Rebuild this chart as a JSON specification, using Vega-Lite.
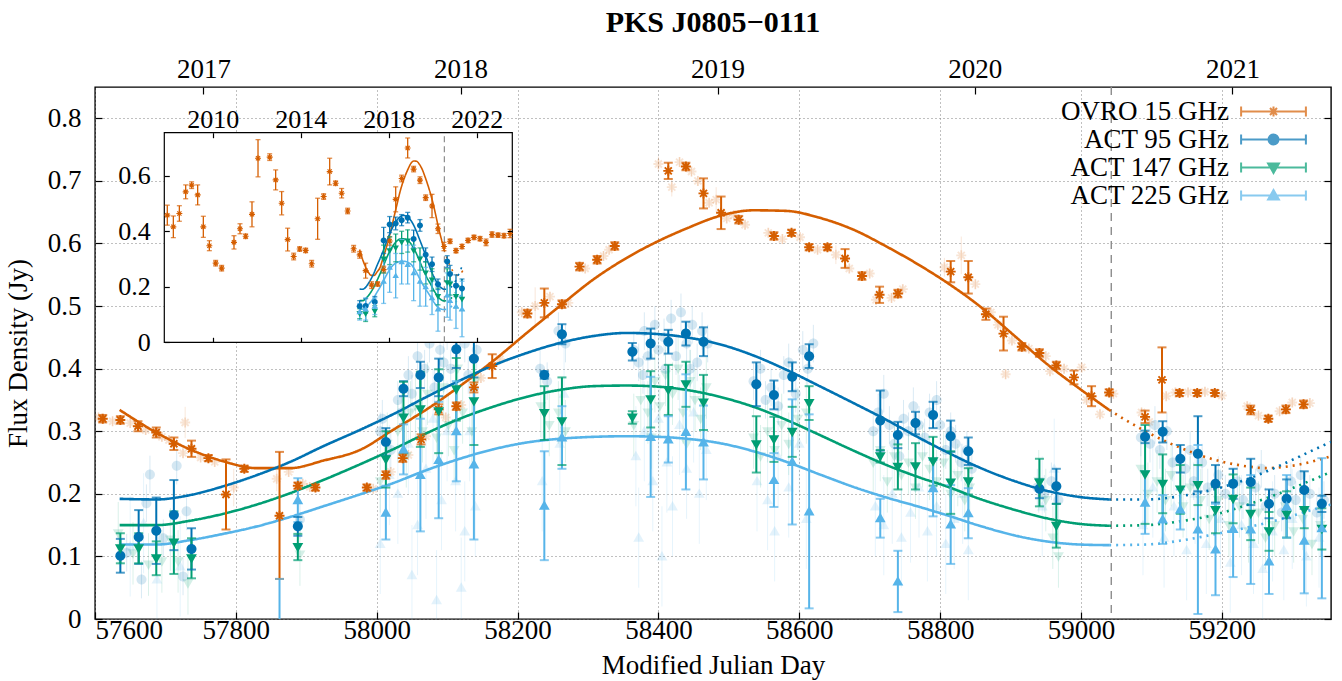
{
"$schema":"https://vega.github.io/schema/vega-lite/v6.json",
"width":1236,"height":532,
"autosize":{"type":"none"},
"padding":{"left":95,"top":87,"right":11,"bottom":62},
"background":"white",
"title":{"text":"PKS J0805−0111","font":"Liberation Serif","fontSize":30,"fontWeight":"bold","color":"black","anchor":"middle","offset":17},
"config":{
 "font":"Liberation Serif",
 "view":{"stroke":"black","strokeWidth":1.4},
 "axis":{"labelFont":"Liberation Serif","labelFontSize":27,"labelColor":"black","titleFont":"Liberation Serif","titleFontSize":27,"titleFontWeight":"normal","titleColor":"black","tickColor":"black","tickWidth":1.2,"domain":false}
},
"datasets":{
"fit":[
{"s":"O","g":"a","t":57635,"v":0.334},{"s":"O","g":"a","t":57687,"v":0.298},{"s":"O","g":"a","t":57735,"v":0.271},{"s":"O","g":"a","t":57782,"v":0.252},{"s":"O","g":"a","t":57830,"v":0.241},{"s":"O","g":"a","t":57877,"v":0.241},{"s":"O","g":"a","t":57924,"v":0.253},{"s":"O","g":"a","t":57976,"v":0.270},{"s":"O","g":"a","t":58023,"v":0.302},{"s":"O","g":"a","t":58071,"v":0.335},{"s":"O","g":"a","t":58118,"v":0.372},{"s":"O","g":"a","t":58165,"v":0.412},{"s":"O","g":"a","t":58213,"v":0.457},{"s":"O","g":"a","t":58260,"v":0.500},{"s":"O","g":"a","t":58307,"v":0.542},{"s":"O","g":"a","t":58355,"v":0.577},{"s":"O","g":"a","t":58402,"v":0.605},{"s":"O","g":"a","t":58440,"v":0.624},{"s":"O","g":"a","t":58487,"v":0.644},{"s":"O","g":"a","t":58535,"v":0.653},{"s":"O","g":"a","t":58582,"v":0.652},{"s":"O","g":"a","t":58629,"v":0.641},{"s":"O","g":"a","t":58677,"v":0.622},{"s":"O","g":"a","t":58724,"v":0.595},{"s":"O","g":"a","t":58771,"v":0.565},{"s":"O","g":"a","t":58809,"v":0.538},{"s":"O","g":"a","t":58856,"v":0.500},{"s":"O","g":"a","t":58904,"v":0.454},{"s":"O","g":"a","t":58951,"v":0.408},{"s":"O","g":"a","t":58998,"v":0.368},{"s":"O","g":"a","t":59040,"v":0.334},
{"s":"O","g":"b","t":59040,"v":0.334},{"s":"O","g":"b","t":59093,"v":0.299},{"s":"O","g":"b","t":59140,"v":0.274},{"s":"O","g":"b","t":59188,"v":0.255},{"s":"O","g":"b","t":59235,"v":0.244},{"s":"O","g":"b","t":59263,"v":0.241},{"s":"O","g":"b","t":59306,"v":0.246},{"s":"O","g":"b","t":59355,"v":0.260},
{"s":"A95","g":"a","t":57635,"v":0.192},{"s":"A95","g":"a","t":57687,"v":0.191},{"s":"A95","g":"a","t":57735,"v":0.198},{"s":"A95","g":"a","t":57782,"v":0.212},{"s":"A95","g":"a","t":57830,"v":0.230},{"s":"A95","g":"a","t":57877,"v":0.251},{"s":"A95","g":"a","t":57924,"v":0.276},{"s":"A95","g":"a","t":57976,"v":0.302},{"s":"A95","g":"a","t":58023,"v":0.327},{"s":"A95","g":"a","t":58071,"v":0.355},{"s":"A95","g":"a","t":58118,"v":0.381},{"s":"A95","g":"a","t":58165,"v":0.405},{"s":"A95","g":"a","t":58213,"v":0.425},{"s":"A95","g":"a","t":58260,"v":0.441},{"s":"A95","g":"a","t":58307,"v":0.452},{"s":"A95","g":"a","t":58355,"v":0.457},{"s":"A95","g":"a","t":58402,"v":0.455},{"s":"A95","g":"a","t":58440,"v":0.450},{"s":"A95","g":"a","t":58487,"v":0.439},{"s":"A95","g":"a","t":58535,"v":0.421},{"s":"A95","g":"a","t":58582,"v":0.398},{"s":"A95","g":"a","t":58629,"v":0.372},{"s":"A95","g":"a","t":58677,"v":0.345},{"s":"A95","g":"a","t":58724,"v":0.318},{"s":"A95","g":"a","t":58771,"v":0.289},{"s":"A95","g":"a","t":58809,"v":0.267},{"s":"A95","g":"a","t":58856,"v":0.242},{"s":"A95","g":"a","t":58904,"v":0.221},{"s":"A95","g":"a","t":58951,"v":0.205},{"s":"A95","g":"a","t":58998,"v":0.195},{"s":"A95","g":"a","t":59040,"v":0.191},
{"s":"A95","g":"b","t":59040,"v":0.191},{"s":"A95","g":"b","t":59093,"v":0.191},{"s":"A95","g":"b","t":59140,"v":0.196},{"s":"A95","g":"b","t":59188,"v":0.207},{"s":"A95","g":"b","t":59235,"v":0.223},{"s":"A95","g":"b","t":59282,"v":0.245},{"s":"A95","g":"b","t":59330,"v":0.270},{"s":"A95","g":"b","t":59355,"v":0.283},
{"s":"A147","g":"a","t":57635,"v":0.150},{"s":"A147","g":"a","t":57687,"v":0.150},{"s":"A147","g":"a","t":57735,"v":0.157},{"s":"A147","g":"a","t":57782,"v":0.168},{"s":"A147","g":"a","t":57830,"v":0.183},{"s":"A147","g":"a","t":57877,"v":0.201},{"s":"A147","g":"a","t":57924,"v":0.222},{"s":"A147","g":"a","t":57976,"v":0.247},{"s":"A147","g":"a","t":58023,"v":0.271},{"s":"A147","g":"a","t":58071,"v":0.297},{"s":"A147","g":"a","t":58118,"v":0.320},{"s":"A147","g":"a","t":58165,"v":0.339},{"s":"A147","g":"a","t":58213,"v":0.355},{"s":"A147","g":"a","t":58260,"v":0.366},{"s":"A147","g":"a","t":58307,"v":0.372},{"s":"A147","g":"a","t":58355,"v":0.373},{"s":"A147","g":"a","t":58402,"v":0.371},{"s":"A147","g":"a","t":58440,"v":0.366},{"s":"A147","g":"a","t":58487,"v":0.355},{"s":"A147","g":"a","t":58535,"v":0.339},{"s":"A147","g":"a","t":58582,"v":0.318},{"s":"A147","g":"a","t":58629,"v":0.294},{"s":"A147","g":"a","t":58677,"v":0.269},{"s":"A147","g":"a","t":58724,"v":0.246},{"s":"A147","g":"a","t":58771,"v":0.226},{"s":"A147","g":"a","t":58809,"v":0.212},{"s":"A147","g":"a","t":58856,"v":0.192},{"s":"A147","g":"a","t":58904,"v":0.175},{"s":"A147","g":"a","t":58951,"v":0.161},{"s":"A147","g":"a","t":58998,"v":0.152},{"s":"A147","g":"a","t":59040,"v":0.149},
{"s":"A147","g":"b","t":59040,"v":0.149},{"s":"A147","g":"b","t":59093,"v":0.150},{"s":"A147","g":"b","t":59140,"v":0.156},{"s":"A147","g":"b","t":59188,"v":0.166},{"s":"A147","g":"b","t":59235,"v":0.182},{"s":"A147","g":"b","t":59282,"v":0.201},{"s":"A147","g":"b","t":59330,"v":0.223},{"s":"A147","g":"b","t":59355,"v":0.235},
{"s":"A225","g":"a","t":57635,"v":0.119},{"s":"A225","g":"a","t":57687,"v":0.119},{"s":"A225","g":"a","t":57735,"v":0.126},{"s":"A225","g":"a","t":57782,"v":0.136},{"s":"A225","g":"a","t":57830,"v":0.148},{"s":"A225","g":"a","t":57877,"v":0.163},{"s":"A225","g":"a","t":57924,"v":0.180},{"s":"A225","g":"a","t":57976,"v":0.199},{"s":"A225","g":"a","t":58023,"v":0.217},{"s":"A225","g":"a","t":58071,"v":0.238},{"s":"A225","g":"a","t":58118,"v":0.256},{"s":"A225","g":"a","t":58165,"v":0.271},{"s":"A225","g":"a","t":58213,"v":0.282},{"s":"A225","g":"a","t":58260,"v":0.288},{"s":"A225","g":"a","t":58307,"v":0.291},{"s":"A225","g":"a","t":58355,"v":0.292},{"s":"A225","g":"a","t":58402,"v":0.291},{"s":"A225","g":"a","t":58440,"v":0.288},{"s":"A225","g":"a","t":58487,"v":0.281},{"s":"A225","g":"a","t":58535,"v":0.268},{"s":"A225","g":"a","t":58582,"v":0.251},{"s":"A225","g":"a","t":58629,"v":0.231},{"s":"A225","g":"a","t":58677,"v":0.211},{"s":"A225","g":"a","t":58724,"v":0.194},{"s":"A225","g":"a","t":58771,"v":0.179},{"s":"A225","g":"a","t":58809,"v":0.166},{"s":"A225","g":"a","t":58856,"v":0.149},{"s":"A225","g":"a","t":58904,"v":0.134},{"s":"A225","g":"a","t":58951,"v":0.124},{"s":"A225","g":"a","t":58998,"v":0.119},{"s":"A225","g":"a","t":59040,"v":0.118},
{"s":"A225","g":"b","t":59040,"v":0.118},{"s":"A225","g":"b","t":59093,"v":0.119},{"s":"A225","g":"b","t":59140,"v":0.125},{"s":"A225","g":"b","t":59188,"v":0.135},{"s":"A225","g":"b","t":59235,"v":0.146},{"s":"A225","g":"b","t":59282,"v":0.159},{"s":"A225","g":"b","t":59330,"v":0.175},{"s":"A225","g":"b","t":59355,"v":0.183}
],
"bold":[
{"s":"O","t":57611,"v":0.320,"lo":0.314,"hi":0.326},{"s":"O","t":57636,"v":0.318,"lo":0.312,"hi":0.324},{"s":"O","t":57661,"v":0.308,"lo":0.300,"hi":0.316},{"s":"O","t":57687,"v":0.298,"lo":0.290,"hi":0.306},{"s":"O","t":57712,"v":0.280,"lo":0.270,"hi":0.290},{"s":"O","t":57737,"v":0.272,"lo":0.259,"hi":0.285},{"s":"O","t":57761,"v":0.257,"lo":0.252,"hi":0.262},{"s":"O","t":57786,"v":0.199,"lo":0.143,"hi":0.255},{"s":"O","t":57812,"v":0.240,"lo":0.235,"hi":0.245},{"s":"O","t":57862,"v":0.165,"lo":0.064,"hi":0.267},{"s":"O","t":57888,"v":0.213,"lo":0.208,"hi":0.218},{"s":"O","t":57913,"v":0.210,"lo":0.205,"hi":0.215},{"s":"O","t":57986,"v":0.210,"lo":0.205,"hi":0.215},{"s":"O","t":58013,"v":0.230,"lo":0.224,"hi":0.236},{"s":"O","t":58037,"v":0.257,"lo":0.251,"hi":0.263},{"s":"O","t":58063,"v":0.287,"lo":0.279,"hi":0.295},{"s":"O","t":58088,"v":0.335,"lo":0.327,"hi":0.343},{"s":"O","t":58113,"v":0.340,"lo":0.334,"hi":0.346},{"s":"O","t":58138,"v":0.370,"lo":0.362,"hi":0.378},{"s":"O","t":58164,"v":0.404,"lo":0.385,"hi":0.423},{"s":"O","t":58214,"v":0.488,"lo":0.482,"hi":0.494},{"s":"O","t":58238,"v":0.505,"lo":0.482,"hi":0.528},{"s":"O","t":58263,"v":0.503,"lo":0.497,"hi":0.509},{"s":"O","t":58288,"v":0.563,"lo":0.557,"hi":0.569},{"s":"O","t":58313,"v":0.574,"lo":0.568,"hi":0.580},{"s":"O","t":58338,"v":0.596,"lo":0.590,"hi":0.602},{"s":"O","t":58414,"v":0.716,"lo":0.703,"hi":0.729},{"s":"O","t":58439,"v":0.723,"lo":0.717,"hi":0.729},{"s":"O","t":58464,"v":0.680,"lo":0.656,"hi":0.704},{"s":"O","t":58489,"v":0.649,"lo":0.623,"hi":0.675},{"s":"O","t":58514,"v":0.638,"lo":0.632,"hi":0.644},{"s":"O","t":58564,"v":0.612,"lo":0.606,"hi":0.618},{"s":"O","t":58589,"v":0.617,"lo":0.612,"hi":0.622},{"s":"O","t":58614,"v":0.594,"lo":0.589,"hi":0.599},{"s":"O","t":58640,"v":0.594,"lo":0.589,"hi":0.599},{"s":"O","t":58665,"v":0.576,"lo":0.561,"hi":0.591},{"s":"O","t":58689,"v":0.548,"lo":0.542,"hi":0.554},{"s":"O","t":58714,"v":0.518,"lo":0.505,"hi":0.531},{"s":"O","t":58740,"v":0.520,"lo":0.514,"hi":0.526},{"s":"O","t":58815,"v":0.555,"lo":0.538,"hi":0.572},{"s":"O","t":58840,"v":0.546,"lo":0.520,"hi":0.572},{"s":"O","t":58865,"v":0.487,"lo":0.478,"hi":0.496},{"s":"O","t":58890,"v":0.456,"lo":0.429,"hi":0.483},{"s":"O","t":58916,"v":0.435,"lo":0.429,"hi":0.441},{"s":"O","t":58941,"v":0.425,"lo":0.419,"hi":0.431},{"s":"O","t":58965,"v":0.405,"lo":0.399,"hi":0.411},{"s":"O","t":58990,"v":0.386,"lo":0.375,"hi":0.397},{"s":"O","t":59015,"v":0.356,"lo":0.340,"hi":0.372},{"s":"O","t":59040,"v":0.362,"lo":0.357,"hi":0.367},{"s":"O","t":59091,"v":0.323,"lo":0.313,"hi":0.333},{"s":"O","t":59115,"v":0.382,"lo":0.330,"hi":0.434},{"s":"O","t":59140,"v":0.361,"lo":0.356,"hi":0.366},{"s":"O","t":59165,"v":0.361,"lo":0.356,"hi":0.366},{"s":"O","t":59190,"v":0.361,"lo":0.356,"hi":0.366},{"s":"O","t":59241,"v":0.334,"lo":0.327,"hi":0.341},{"s":"O","t":59266,"v":0.320,"lo":0.315,"hi":0.325},{"s":"O","t":59291,"v":0.335,"lo":0.329,"hi":0.341},{"s":"O","t":59316,"v":0.343,"lo":0.337,"hi":0.349},
{"s":"A95","t":57636,"v":0.101,"lo":0.074,"hi":0.128},{"s":"A95","t":57662,"v":0.131,"lo":0.088,"hi":0.174},{"s":"A95","t":57687,"v":0.141,"lo":0.088,"hi":0.194},{"s":"A95","t":57712,"v":0.166,"lo":0.110,"hi":0.222},{"s":"A95","t":57737,"v":0.112,"lo":0.079,"hi":0.145},{"s":"A95","t":57888,"v":0.148,"lo":0.133,"hi":0.163},{"s":"A95","t":58013,"v":0.283,"lo":0.261,"hi":0.305},{"s":"A95","t":58038,"v":0.368,"lo":0.356,"hi":0.380},{"s":"A95","t":58062,"v":0.390,"lo":0.369,"hi":0.411},{"s":"A95","t":58088,"v":0.386,"lo":0.356,"hi":0.416},{"s":"A95","t":58113,"v":0.431,"lo":0.401,"hi":0.461},{"s":"A95","t":58138,"v":0.416,"lo":0.386,"hi":0.446},{"s":"A95","t":58238,"v":0.390,"lo":0.384,"hi":0.396},{"s":"A95","t":58263,"v":0.455,"lo":0.439,"hi":0.471},{"s":"A95","t":58363,"v":0.427,"lo":0.413,"hi":0.441},{"s":"A95","t":58389,"v":0.440,"lo":0.416,"hi":0.464},{"s":"A95","t":58414,"v":0.443,"lo":0.424,"hi":0.462},{"s":"A95","t":58439,"v":0.456,"lo":0.437,"hi":0.475},{"s":"A95","t":58464,"v":0.443,"lo":0.420,"hi":0.466},{"s":"A95","t":58539,"v":0.375,"lo":0.340,"hi":0.410},{"s":"A95","t":58564,"v":0.358,"lo":0.335,"hi":0.381},{"s":"A95","t":58590,"v":0.387,"lo":0.364,"hi":0.410},{"s":"A95","t":58614,"v":0.420,"lo":0.401,"hi":0.439},{"s":"A95","t":58715,"v":0.317,"lo":0.269,"hi":0.365},{"s":"A95","t":58740,"v":0.294,"lo":0.273,"hi":0.315},{"s":"A95","t":58765,"v":0.313,"lo":0.295,"hi":0.331},{"s":"A95","t":58790,"v":0.326,"lo":0.305,"hi":0.347},{"s":"A95","t":58815,"v":0.292,"lo":0.267,"hi":0.317},{"s":"A95","t":58840,"v":0.268,"lo":0.246,"hi":0.290},{"s":"A95","t":58941,"v":0.208,"lo":0.193,"hi":0.223},{"s":"A95","t":58965,"v":0.212,"lo":0.184,"hi":0.240},{"s":"A95","t":59091,"v":0.291,"lo":0.281,"hi":0.301},{"s":"A95","t":59116,"v":0.299,"lo":0.282,"hi":0.316},{"s":"A95","t":59141,"v":0.256,"lo":0.234,"hi":0.278},{"s":"A95","t":59166,"v":0.264,"lo":0.204,"hi":0.324},{"s":"A95","t":59191,"v":0.216,"lo":0.186,"hi":0.246},{"s":"A95","t":59216,"v":0.216,"lo":0.192,"hi":0.240},{"s":"A95","t":59241,"v":0.219,"lo":0.182,"hi":0.256},{"s":"A95","t":59267,"v":0.184,"lo":0.161,"hi":0.207},{"s":"A95","t":59292,"v":0.192,"lo":0.161,"hi":0.223},{"s":"A95","t":59317,"v":0.206,"lo":0.176,"hi":0.236},{"s":"A95","t":59342,"v":0.184,"lo":0.171,"hi":0.197},
{"s":"A147","t":57636,"v":0.113,"lo":0.089,"hi":0.137},{"s":"A147","t":57662,"v":0.113,"lo":0.089,"hi":0.137},{"s":"A147","t":57687,"v":0.097,"lo":0.070,"hi":0.124},{"s":"A147","t":57712,"v":0.122,"lo":0.072,"hi":0.172},{"s":"A147","t":57737,"v":0.097,"lo":0.065,"hi":0.129},{"s":"A147","t":57888,"v":0.115,"lo":0.094,"hi":0.136},{"s":"A147","t":58013,"v":0.255,"lo":0.210,"hi":0.300},{"s":"A147","t":58038,"v":0.322,"lo":0.265,"hi":0.379},{"s":"A147","t":58062,"v":0.335,"lo":0.275,"hi":0.395},{"s":"A147","t":58088,"v":0.332,"lo":0.265,"hi":0.399},{"s":"A147","t":58113,"v":0.367,"lo":0.317,"hi":0.417},{"s":"A147","t":58138,"v":0.348,"lo":0.278,"hi":0.418},{"s":"A147","t":58238,"v":0.329,"lo":0.286,"hi":0.372},{"s":"A147","t":58263,"v":0.316,"lo":0.246,"hi":0.386},{"s":"A147","t":58363,"v":0.322,"lo":0.312,"hi":0.332},{"s":"A147","t":58389,"v":0.351,"lo":0.306,"hi":0.396},{"s":"A147","t":58414,"v":0.366,"lo":0.326,"hi":0.406},{"s":"A147","t":58439,"v":0.375,"lo":0.339,"hi":0.411},{"s":"A147","t":58464,"v":0.346,"lo":0.302,"hi":0.390},{"s":"A147","t":58539,"v":0.279,"lo":0.234,"hi":0.324},{"s":"A147","t":58564,"v":0.287,"lo":0.251,"hi":0.323},{"s":"A147","t":58590,"v":0.299,"lo":0.259,"hi":0.339},{"s":"A147","t":58614,"v":0.345,"lo":0.318,"hi":0.372},{"s":"A147","t":58715,"v":0.260,"lo":0.250,"hi":0.270},{"s":"A147","t":58740,"v":0.243,"lo":0.207,"hi":0.279},{"s":"A147","t":58765,"v":0.244,"lo":0.207,"hi":0.281},{"s":"A147","t":58790,"v":0.252,"lo":0.213,"hi":0.291},{"s":"A147","t":58815,"v":0.218,"lo":0.168,"hi":0.268},{"s":"A147","t":58840,"v":0.220,"lo":0.199,"hi":0.241},{"s":"A147","t":58941,"v":0.218,"lo":0.180,"hi":0.256},{"s":"A147","t":58965,"v":0.149,"lo":0.114,"hi":0.184},{"s":"A147","t":59091,"v":0.231,"lo":0.152,"hi":0.310},{"s":"A147","t":59116,"v":0.216,"lo":0.169,"hi":0.263},{"s":"A147","t":59141,"v":0.207,"lo":0.168,"hi":0.246},{"s":"A147","t":59166,"v":0.214,"lo":0.182,"hi":0.246},{"s":"A147","t":59191,"v":0.174,"lo":0.137,"hi":0.211},{"s":"A147","t":59216,"v":0.192,"lo":0.153,"hi":0.231},{"s":"A147","t":59241,"v":0.168,"lo":0.126,"hi":0.210},{"s":"A147","t":59267,"v":0.140,"lo":0.109,"hi":0.171},{"s":"A147","t":59292,"v":0.167,"lo":0.130,"hi":0.204},{"s":"A147","t":59317,"v":0.174,"lo":0.145,"hi":0.203},{"s":"A147","t":59342,"v":0.144,"lo":0.111,"hi":0.177},
{"s":"A225","t":57862,"v":-0.04,"lo":-0.144,"hi":0.064},{"s":"A225","t":57888,"v":0.190,"lo":0.155,"hi":0.225},{"s":"A225","t":58013,"v":0.170,"lo":0.127,"hi":0.213},{"s":"A225","t":58038,"v":0.271,"lo":0.231,"hi":0.311},{"s":"A225","t":58062,"v":0.230,"lo":0.140,"hi":0.320},{"s":"A225","t":58088,"v":0.254,"lo":0.161,"hi":0.347},{"s":"A225","t":58113,"v":0.300,"lo":0.220,"hi":0.380},{"s":"A225","t":58138,"v":0.247,"lo":0.127,"hi":0.367},{"s":"A225","t":58238,"v":0.181,"lo":0.094,"hi":0.268},{"s":"A225","t":58263,"v":0.290,"lo":0.240,"hi":0.340},{"s":"A225","t":58389,"v":0.291,"lo":0.195,"hi":0.387},{"s":"A225","t":58414,"v":0.287,"lo":0.250,"hi":0.324},{"s":"A225","t":58439,"v":0.299,"lo":0.207,"hi":0.391},{"s":"A225","t":58464,"v":0.282,"lo":0.223,"hi":0.341},{"s":"A225","t":58564,"v":0.222,"lo":0.179,"hi":0.265},{"s":"A225","t":58590,"v":0.251,"lo":0.151,"hi":0.351},{"s":"A225","t":58614,"v":0.172,"lo":0.017,"hi":0.327},{"s":"A225","t":58715,"v":0.161,"lo":0.130,"hi":0.192},{"s":"A225","t":58740,"v":0.060,"lo":0.011,"hi":0.109},{"s":"A225","t":58790,"v":0.209,"lo":0.164,"hi":0.254},{"s":"A225","t":58815,"v":0.151,"lo":0.088,"hi":0.214},{"s":"A225","t":58840,"v":0.169,"lo":0.129,"hi":0.209},{"s":"A225","t":59091,"v":0.186,"lo":0.136,"hi":0.236},{"s":"A225","t":59116,"v":0.159,"lo":0.120,"hi":0.198},{"s":"A225","t":59141,"v":0.175,"lo":0.143,"hi":0.207},{"s":"A225","t":59166,"v":0.143,"lo":0.008,"hi":0.278},{"s":"A225","t":59191,"v":0.111,"lo":0.038,"hi":0.184},{"s":"A225","t":59216,"v":0.144,"lo":0.067,"hi":0.221},{"s":"A225","t":59241,"v":0.143,"lo":0.056,"hi":0.230},{"s":"A225","t":59267,"v":0.092,"lo":0.040,"hi":0.144},{"s":"A225","t":59292,"v":0.180,"lo":0.130,"hi":0.230},{"s":"A225","t":59317,"v":0.125,"lo":0.041,"hi":0.209},{"s":"A225","t":59342,"v":0.145,"lo":0.033,"hi":0.257}
],
"faint":[
{"s":"O","t":57605,"v":0.322,"lo":0.314,"hi":0.330},{"s":"O","t":57625,"v":0.316,"lo":0.308,"hi":0.324},{"s":"O","t":57650,"v":0.313,"lo":0.305,"hi":0.321},{"s":"O","t":57672,"v":0.302,"lo":0.294,"hi":0.310},{"s":"O","t":57695,"v":0.291,"lo":0.283,"hi":0.299},{"s":"O","t":57705,"v":0.286,"lo":0.278,"hi":0.294},{"s":"O","t":57725,"v":0.265,"lo":0.257,"hi":0.273},{"s":"O","t":57728,"v":0.314,"lo":0.289,"hi":0.339},{"s":"O","t":57750,"v":0.258,"lo":0.250,"hi":0.266},{"s":"O","t":57770,"v":0.251,"lo":0.243,"hi":0.259},{"s":"O","t":57797,"v":0.210,"lo":0.180,"hi":0.240},{"s":"O","t":57858,"v":0.224,"lo":0.204,"hi":0.244},{"s":"O","t":57875,"v":0.235,"lo":0.227,"hi":0.243},{"s":"O","t":57895,"v":0.216,"lo":0.208,"hi":0.224},{"s":"O","t":57905,"v":0.211,"lo":0.203,"hi":0.219},{"s":"O","t":57995,"v":0.208,"lo":0.200,"hi":0.216},{"s":"O","t":58020,"v":0.235,"lo":0.227,"hi":0.243},{"s":"O","t":58045,"v":0.262,"lo":0.254,"hi":0.270},{"s":"O","t":58070,"v":0.292,"lo":0.284,"hi":0.300},{"s":"O","t":58098,"v":0.322,"lo":0.314,"hi":0.330},{"s":"O","t":58120,"v":0.342,"lo":0.334,"hi":0.350},{"s":"O","t":58148,"v":0.385,"lo":0.377,"hi":0.393},{"s":"O","t":58175,"v":0.415,"lo":0.407,"hi":0.423},{"s":"O","t":58206,"v":0.490,"lo":0.482,"hi":0.498},{"s":"O","t":58225,"v":0.500,"lo":0.470,"hi":0.530},{"s":"O","t":58246,"v":0.515,"lo":0.507,"hi":0.523},{"s":"O","t":58272,"v":0.505,"lo":0.497,"hi":0.513},{"s":"O","t":58296,"v":0.560,"lo":0.552,"hi":0.568},{"s":"O","t":58322,"v":0.580,"lo":0.572,"hi":0.588},{"s":"O","t":58330,"v":0.590,"lo":0.582,"hi":0.598},{"s":"O","t":58400,"v":0.727,"lo":0.715,"hi":0.739},{"s":"O","t":58419,"v":0.690,"lo":0.675,"hi":0.705},{"s":"O","t":58430,"v":0.730,"lo":0.722,"hi":0.738},{"s":"O","t":58447,"v":0.715,"lo":0.707,"hi":0.723},{"s":"O","t":58456,"v":0.700,"lo":0.692,"hi":0.708},{"s":"O","t":58472,"v":0.665,"lo":0.657,"hi":0.673},{"s":"O","t":58482,"v":0.670,"lo":0.650,"hi":0.690},{"s":"O","t":58497,"v":0.640,"lo":0.632,"hi":0.648},{"s":"O","t":58507,"v":0.645,"lo":0.637,"hi":0.653},{"s":"O","t":58523,"v":0.630,"lo":0.622,"hi":0.638},{"s":"O","t":58556,"v":0.617,"lo":0.609,"hi":0.625},{"s":"O","t":58576,"v":0.607,"lo":0.599,"hi":0.615},{"s":"O","t":58601,"v":0.610,"lo":0.602,"hi":0.618},{"s":"O","t":58626,"v":0.590,"lo":0.582,"hi":0.598},{"s":"O","t":58652,"v":0.582,"lo":0.567,"hi":0.597},{"s":"O","t":58671,"v":0.560,"lo":0.552,"hi":0.568},{"s":"O","t":58700,"v":0.552,"lo":0.544,"hi":0.560},{"s":"O","t":58709,"v":0.510,"lo":0.502,"hi":0.518},{"s":"O","t":58731,"v":0.513,"lo":0.505,"hi":0.521},{"s":"O","t":58747,"v":0.527,"lo":0.519,"hi":0.535},{"s":"O","t":58806,"v":0.562,"lo":0.547,"hi":0.577},{"s":"O","t":58830,"v":0.581,"lo":0.551,"hi":0.611},{"s":"O","t":58850,"v":0.535,"lo":0.527,"hi":0.543},{"s":"O","t":58872,"v":0.490,"lo":0.482,"hi":0.498},{"s":"O","t":58882,"v":0.470,"lo":0.462,"hi":0.478},{"s":"O","t":58893,"v":0.391,"lo":0.383,"hi":0.399},{"s":"O","t":58902,"v":0.445,"lo":0.437,"hi":0.453},{"s":"O","t":58926,"v":0.432,"lo":0.424,"hi":0.440},{"s":"O","t":58950,"v":0.420,"lo":0.412,"hi":0.428},{"s":"O","t":58956,"v":0.396,"lo":0.388,"hi":0.404},{"s":"O","t":58976,"v":0.400,"lo":0.392,"hi":0.408},{"s":"O","t":59001,"v":0.402,"lo":0.394,"hi":0.410},{"s":"O","t":59008,"v":0.350,"lo":0.342,"hi":0.358},{"s":"O","t":59027,"v":0.327,"lo":0.319,"hi":0.335},{"s":"O","t":59046,"v":0.360,"lo":0.352,"hi":0.368},{"s":"O","t":59086,"v":0.330,"lo":0.322,"hi":0.338},{"s":"O","t":59097,"v":0.315,"lo":0.307,"hi":0.323},{"s":"O","t":59121,"v":0.356,"lo":0.348,"hi":0.364},{"s":"O","t":59134,"v":0.362,"lo":0.354,"hi":0.370},{"s":"O","t":59152,"v":0.362,"lo":0.354,"hi":0.370},{"s":"O","t":59176,"v":0.363,"lo":0.355,"hi":0.371},{"s":"O","t":59200,"v":0.357,"lo":0.349,"hi":0.365},{"s":"O","t":59236,"v":0.340,"lo":0.332,"hi":0.348},{"s":"O","t":59252,"v":0.325,"lo":0.317,"hi":0.333},{"s":"O","t":59282,"v":0.332,"lo":0.324,"hi":0.340},{"s":"O","t":59300,"v":0.346,"lo":0.338,"hi":0.354},{"s":"O","t":59325,"v":0.345,"lo":0.337,"hi":0.353},
{"s":"A95","t":57678,"v":0.231,"lo":0.201,"hi":0.261},{"s":"A95","t":57716,"v":0.245,"lo":0.215,"hi":0.275},{"s":"A95","t":57673,"v":0.185,"lo":0.155,"hi":0.215},{"s":"A95","t":57697,"v":0.129,"lo":0.099,"hi":0.159},{"s":"A95","t":57730,"v":0.172,"lo":0.142,"hi":0.202},{"s":"A95","t":57645,"v":0.106,"lo":0.076,"hi":0.136},{"s":"A95","t":57666,"v":0.063,"lo":0.033,"hi":0.093},{"s":"A95","t":57725,"v":0.068,"lo":0.038,"hi":0.098},{"s":"A95","t":57891,"v":0.159,"lo":0.129,"hi":0.189},
{"s":"A95","t":58005,"v":0.300,"lo":0.270,"hi":0.330},{"s":"A95","t":58008,"v":0.320,"lo":0.290,"hi":0.350},{"s":"A95","t":58020,"v":0.270,"lo":0.240,"hi":0.300},{"s":"A95","t":58030,"v":0.350,"lo":0.320,"hi":0.380},{"s":"A95","t":58035,"v":0.330,"lo":0.300,"hi":0.360},{"s":"A95","t":58045,"v":0.390,"lo":0.360,"hi":0.420},{"s":"A95","t":58050,"v":0.360,"lo":0.330,"hi":0.390},{"s":"A95","t":58058,"v":0.420,"lo":0.390,"hi":0.450},{"s":"A95","t":58068,"v":0.400,"lo":0.370,"hi":0.430},{"s":"A95","t":58075,"v":0.440,"lo":0.410,"hi":0.470},{"s":"A95","t":58082,"v":0.370,"lo":0.340,"hi":0.400},{"s":"A95","t":58090,"v":0.430,"lo":0.400,"hi":0.460},{"s":"A95","t":58095,"v":0.410,"lo":0.380,"hi":0.440},{"s":"A95","t":58100,"v":0.460,"lo":0.430,"hi":0.490},{"s":"A95","t":58105,"v":0.400,"lo":0.370,"hi":0.430},{"s":"A95","t":58110,"v":0.470,"lo":0.440,"hi":0.500},{"s":"A95","t":58118,"v":0.450,"lo":0.420,"hi":0.480},{"s":"A95","t":58125,"v":0.440,"lo":0.410,"hi":0.470},{"s":"A95","t":58130,"v":0.390,"lo":0.360,"hi":0.420},{"s":"A95","t":58142,"v":0.430,"lo":0.400,"hi":0.460},
{"s":"A95","t":58232,"v":0.400,"lo":0.370,"hi":0.430},{"s":"A95","t":58242,"v":0.380,"lo":0.350,"hi":0.410},{"s":"A95","t":58258,"v":0.460,"lo":0.430,"hi":0.490},{"s":"A95","t":58268,"v":0.440,"lo":0.410,"hi":0.470},
{"s":"A95","t":58365,"v":0.430,"lo":0.400,"hi":0.460},{"s":"A95","t":58372,"v":0.410,"lo":0.380,"hi":0.440},{"s":"A95","t":58378,"v":0.390,"lo":0.360,"hi":0.420},{"s":"A95","t":58380,"v":0.460,"lo":0.430,"hi":0.490},{"s":"A95","t":58385,"v":0.420,"lo":0.390,"hi":0.450},{"s":"A95","t":58395,"v":0.470,"lo":0.440,"hi":0.500},{"s":"A95","t":58400,"v":0.430,"lo":0.400,"hi":0.460},{"s":"A95","t":58408,"v":0.450,"lo":0.420,"hi":0.480},{"s":"A95","t":58410,"v":0.400,"lo":0.370,"hi":0.430},{"s":"A95","t":58418,"v":0.480,"lo":0.450,"hi":0.510},{"s":"A95","t":58425,"v":0.420,"lo":0.390,"hi":0.450},{"s":"A95","t":58432,"v":0.490,"lo":0.460,"hi":0.520},{"s":"A95","t":58440,"v":0.440,"lo":0.410,"hi":0.470},{"s":"A95","t":58445,"v":0.400,"lo":0.370,"hi":0.430},{"s":"A95","t":58448,"v":0.470,"lo":0.440,"hi":0.500},{"s":"A95","t":58455,"v":0.410,"lo":0.380,"hi":0.440},{"s":"A95","t":58462,"v":0.460,"lo":0.430,"hi":0.490},{"s":"A95","t":58470,"v":0.440,"lo":0.410,"hi":0.470},
{"s":"A95","t":58535,"v":0.380,"lo":0.350,"hi":0.410},{"s":"A95","t":58545,"v":0.400,"lo":0.370,"hi":0.430},{"s":"A95","t":58552,"v":0.350,"lo":0.320,"hi":0.380},{"s":"A95","t":58560,"v":0.370,"lo":0.340,"hi":0.400},{"s":"A95","t":58570,"v":0.340,"lo":0.310,"hi":0.370},{"s":"A95","t":58578,"v":0.390,"lo":0.360,"hi":0.420},{"s":"A95","t":58585,"v":0.410,"lo":0.380,"hi":0.440},{"s":"A95","t":58595,"v":0.360,"lo":0.330,"hi":0.390},{"s":"A95","t":58605,"v":0.430,"lo":0.400,"hi":0.460},{"s":"A95","t":58612,"v":0.400,"lo":0.370,"hi":0.430},{"s":"A95","t":58620,"v":0.440,"lo":0.410,"hi":0.470},
{"s":"A95","t":58705,"v":0.300,"lo":0.270,"hi":0.330},{"s":"A95","t":58712,"v":0.330,"lo":0.300,"hi":0.360},{"s":"A95","t":58720,"v":0.360,"lo":0.330,"hi":0.390},{"s":"A95","t":58728,"v":0.310,"lo":0.280,"hi":0.340},{"s":"A95","t":58735,"v":0.280,"lo":0.250,"hi":0.310},{"s":"A95","t":58742,"v":0.260,"lo":0.230,"hi":0.290},{"s":"A95","t":58748,"v":0.320,"lo":0.290,"hi":0.350},{"s":"A95","t":58755,"v":0.300,"lo":0.270,"hi":0.330},{"s":"A95","t":58762,"v":0.340,"lo":0.310,"hi":0.370},{"s":"A95","t":58770,"v":0.310,"lo":0.280,"hi":0.340},{"s":"A95","t":58778,"v":0.290,"lo":0.260,"hi":0.320},{"s":"A95","t":58785,"v":0.330,"lo":0.300,"hi":0.360},{"s":"A95","t":58795,"v":0.350,"lo":0.320,"hi":0.380},{"s":"A95","t":58800,"v":0.310,"lo":0.280,"hi":0.340},{"s":"A95","t":58808,"v":0.270,"lo":0.240,"hi":0.300},{"s":"A95","t":58815,"v":0.300,"lo":0.270,"hi":0.330},{"s":"A95","t":58822,"v":0.280,"lo":0.250,"hi":0.310},{"s":"A95","t":58830,"v":0.250,"lo":0.220,"hi":0.280},{"s":"A95","t":58838,"v":0.270,"lo":0.240,"hi":0.300},{"s":"A95","t":58845,"v":0.240,"lo":0.210,"hi":0.270},
{"s":"A95","t":58938,"v":0.210,"lo":0.180,"hi":0.240},{"s":"A95","t":58948,"v":0.200,"lo":0.170,"hi":0.230},{"s":"A95","t":58958,"v":0.220,"lo":0.190,"hi":0.250},{"s":"A95","t":58968,"v":0.190,"lo":0.160,"hi":0.220},
{"s":"A95","t":59085,"v":0.290,"lo":0.260,"hi":0.320},{"s":"A95","t":59098,"v":0.280,"lo":0.250,"hi":0.310},{"s":"A95","t":59105,"v":0.310,"lo":0.280,"hi":0.340},{"s":"A95","t":59112,"v":0.270,"lo":0.240,"hi":0.300},{"s":"A95","t":59122,"v":0.300,"lo":0.270,"hi":0.330},{"s":"A95","t":59130,"v":0.250,"lo":0.220,"hi":0.280},{"s":"A95","t":59148,"v":0.240,"lo":0.210,"hi":0.270},{"s":"A95","t":59155,"v":0.270,"lo":0.240,"hi":0.300},{"s":"A95","t":59160,"v":0.220,"lo":0.190,"hi":0.250},{"s":"A95","t":59172,"v":0.250,"lo":0.220,"hi":0.280},{"s":"A95","t":59180,"v":0.210,"lo":0.180,"hi":0.240},{"s":"A95","t":59195,"v":0.230,"lo":0.200,"hi":0.260},{"s":"A95","t":59205,"v":0.200,"lo":0.170,"hi":0.230},{"s":"A95","t":59222,"v":0.220,"lo":0.190,"hi":0.250},{"s":"A95","t":59230,"v":0.190,"lo":0.160,"hi":0.220},{"s":"A95","t":59248,"v":0.210,"lo":0.180,"hi":0.240},{"s":"A95","t":59256,"v":0.240,"lo":0.210,"hi":0.270},{"s":"A95","t":59262,"v":0.180,"lo":0.150,"hi":0.210},{"s":"A95","t":59275,"v":0.200,"lo":0.170,"hi":0.230},{"s":"A95","t":59285,"v":0.170,"lo":0.140,"hi":0.200},{"s":"A95","t":59298,"v":0.220,"lo":0.190,"hi":0.250},{"s":"A95","t":59305,"v":0.190,"lo":0.160,"hi":0.220},{"s":"A95","t":59312,"v":0.230,"lo":0.200,"hi":0.260},{"s":"A95","t":59325,"v":0.200,"lo":0.170,"hi":0.230},{"s":"A95","t":59335,"v":0.170,"lo":0.140,"hi":0.200},{"s":"A95","t":59345,"v":0.190,"lo":0.160,"hi":0.220},
{"s":"A147","t":57633,"v":0.137,"lo":0.087,"hi":0.187},{"s":"A147","t":57654,"v":0.105,"lo":0.055,"hi":0.155},{"s":"A147","t":57676,"v":0.087,"lo":0.037,"hi":0.137},{"s":"A147","t":57695,"v":0.092,"lo":0.042,"hi":0.142},{"s":"A147","t":57707,"v":0.127,"lo":0.077,"hi":0.177},{"s":"A147","t":57718,"v":0.092,"lo":0.042,"hi":0.142},{"s":"A147","t":57732,"v":0.057,"lo":0.007,"hi":0.107},{"s":"A147","t":57891,"v":0.103,"lo":0.053,"hi":0.153},
{"s":"A147","t":58005,"v":0.220,"lo":0.170,"hi":0.270},{"s":"A147","t":58015,"v":0.280,"lo":0.230,"hi":0.330},{"s":"A147","t":58030,"v":0.300,"lo":0.250,"hi":0.350},{"s":"A147","t":58042,"v":0.260,"lo":0.210,"hi":0.310},{"s":"A147","t":58048,"v":0.330,"lo":0.280,"hi":0.380},{"s":"A147","t":58055,"v":0.340,"lo":0.290,"hi":0.390},{"s":"A147","t":58065,"v":0.300,"lo":0.250,"hi":0.350},{"s":"A147","t":58072,"v":0.360,"lo":0.310,"hi":0.410},{"s":"A147","t":58085,"v":0.290,"lo":0.240,"hi":0.340},{"s":"A147","t":58095,"v":0.370,"lo":0.320,"hi":0.420},{"s":"A147","t":58102,"v":0.310,"lo":0.260,"hi":0.360},{"s":"A147","t":58110,"v":0.270,"lo":0.220,"hi":0.320},{"s":"A147","t":58115,"v":0.400,"lo":0.350,"hi":0.450},{"s":"A147","t":58122,"v":0.330,"lo":0.280,"hi":0.380},{"s":"A147","t":58135,"v":0.300,"lo":0.250,"hi":0.350},{"s":"A147","t":58140,"v":0.380,"lo":0.330,"hi":0.430},
{"s":"A147","t":58233,"v":0.340,"lo":0.290,"hi":0.390},{"s":"A147","t":58245,"v":0.310,"lo":0.260,"hi":0.360},{"s":"A147","t":58258,"v":0.330,"lo":0.280,"hi":0.380},{"s":"A147","t":58268,"v":0.300,"lo":0.250,"hi":0.350},
{"s":"A147","t":58365,"v":0.310,"lo":0.260,"hi":0.360},{"s":"A147","t":58375,"v":0.350,"lo":0.300,"hi":0.400},{"s":"A147","t":58385,"v":0.330,"lo":0.280,"hi":0.380},{"s":"A147","t":58390,"v":0.290,"lo":0.240,"hi":0.340},{"s":"A147","t":58395,"v":0.380,"lo":0.330,"hi":0.430},{"s":"A147","t":58402,"v":0.340,"lo":0.290,"hi":0.390},{"s":"A147","t":58410,"v":0.390,"lo":0.340,"hi":0.440},{"s":"A147","t":58420,"v":0.360,"lo":0.310,"hi":0.410},{"s":"A147","t":58428,"v":0.400,"lo":0.350,"hi":0.450},{"s":"A147","t":58435,"v":0.330,"lo":0.280,"hi":0.380},{"s":"A147","t":58440,"v":0.280,"lo":0.230,"hi":0.330},{"s":"A147","t":58445,"v":0.380,"lo":0.330,"hi":0.430},{"s":"A147","t":58452,"v":0.350,"lo":0.300,"hi":0.400},{"s":"A147","t":58460,"v":0.320,"lo":0.270,"hi":0.370},{"s":"A147","t":58468,"v":0.370,"lo":0.320,"hi":0.420},
{"s":"A147","t":58535,"v":0.290,"lo":0.240,"hi":0.340},{"s":"A147","t":58545,"v":0.260,"lo":0.210,"hi":0.310},{"s":"A147","t":58555,"v":0.300,"lo":0.250,"hi":0.350},{"s":"A147","t":58565,"v":0.270,"lo":0.220,"hi":0.320},{"s":"A147","t":58575,"v":0.310,"lo":0.260,"hi":0.360},{"s":"A147","t":58585,"v":0.280,"lo":0.230,"hi":0.330},{"s":"A147","t":58598,"v":0.320,"lo":0.270,"hi":0.370},{"s":"A147","t":58610,"v":0.330,"lo":0.280,"hi":0.380},
{"s":"A147","t":58705,"v":0.250,"lo":0.200,"hi":0.300},{"s":"A147","t":58715,"v":0.270,"lo":0.220,"hi":0.320},{"s":"A147","t":58725,"v":0.220,"lo":0.170,"hi":0.270},{"s":"A147","t":58735,"v":0.260,"lo":0.210,"hi":0.310},{"s":"A147","t":58745,"v":0.230,"lo":0.180,"hi":0.280},{"s":"A147","t":58755,"v":0.250,"lo":0.200,"hi":0.300},{"s":"A147","t":58765,"v":0.210,"lo":0.160,"hi":0.260},{"s":"A147","t":58775,"v":0.260,"lo":0.210,"hi":0.310},{"s":"A147","t":58785,"v":0.240,"lo":0.190,"hi":0.290},{"s":"A147","t":58795,"v":0.220,"lo":0.170,"hi":0.270},{"s":"A147","t":58805,"v":0.250,"lo":0.200,"hi":0.300},{"s":"A147","t":58815,"v":0.200,"lo":0.150,"hi":0.250},{"s":"A147","t":58825,"v":0.230,"lo":0.180,"hi":0.280},{"s":"A147","t":58835,"v":0.190,"lo":0.140,"hi":0.240},{"s":"A147","t":58842,"v":0.210,"lo":0.160,"hi":0.260},
{"s":"A147","t":58940,"v":0.220,"lo":0.170,"hi":0.270},{"s":"A147","t":58950,"v":0.190,"lo":0.140,"hi":0.240},{"s":"A147","t":58960,"v":0.130,"lo":0.080,"hi":0.180},{"s":"A147","t":58968,"v":0.100,"lo":0.050,"hi":0.150},
{"s":"A147","t":59085,"v":0.240,"lo":0.190,"hi":0.290},{"s":"A147","t":59095,"v":0.200,"lo":0.150,"hi":0.250},{"s":"A147","t":59108,"v":0.220,"lo":0.170,"hi":0.270},{"s":"A147","t":59120,"v":0.190,"lo":0.140,"hi":0.240},{"s":"A147","t":59128,"v":0.230,"lo":0.180,"hi":0.280},{"s":"A147","t":59145,"v":0.180,"lo":0.130,"hi":0.230},{"s":"A147","t":59155,"v":0.210,"lo":0.160,"hi":0.260},{"s":"A147","t":59170,"v":0.190,"lo":0.140,"hi":0.240},{"s":"A147","t":59182,"v":0.160,"lo":0.110,"hi":0.210},{"s":"A147","t":59195,"v":0.190,"lo":0.140,"hi":0.240},{"s":"A147","t":59210,"v":0.150,"lo":0.100,"hi":0.200},{"s":"A147","t":59225,"v":0.180,"lo":0.130,"hi":0.230},{"s":"A147","t":59238,"v":0.140,"lo":0.090,"hi":0.190},{"s":"A147","t":59252,"v":0.170,"lo":0.120,"hi":0.220},{"s":"A147","t":59262,"v":0.130,"lo":0.080,"hi":0.180},{"s":"A147","t":59275,"v":0.150,"lo":0.100,"hi":0.200},{"s":"A147","t":59290,"v":0.180,"lo":0.130,"hi":0.230},{"s":"A147","t":59302,"v":0.140,"lo":0.090,"hi":0.190},{"s":"A147","t":59315,"v":0.160,"lo":0.110,"hi":0.210},{"s":"A147","t":59328,"v":0.120,"lo":0.070,"hi":0.170},{"s":"A147","t":59340,"v":0.150,"lo":0.100,"hi":0.200},
{"s":"A225","t":57650,"v":0.116,"lo":0.036,"hi":0.196},{"s":"A225","t":57669,"v":0.153,"lo":0.073,"hi":0.233},{"s":"A225","t":57688,"v":0.063,"lo":-0.017,"hi":0.143},{"s":"A225","t":57721,"v":0.084,"lo":0.004,"hi":0.164},
{"s":"A225","t":58005,"v":0.120,"lo":0.040,"hi":0.200},{"s":"A225","t":58018,"v":0.230,"lo":0.150,"hi":0.310},{"s":"A225","t":58030,"v":0.200,"lo":0.120,"hi":0.280},{"s":"A225","t":58045,"v":0.280,"lo":0.200,"hi":0.360},{"s":"A225","t":58050,"v":0.070,"lo":-0.010,"hi":0.150},{"s":"A225","t":58058,"v":0.150,"lo":0.070,"hi":0.230},{"s":"A225","t":58070,"v":0.240,"lo":0.160,"hi":0.320},{"s":"A225","t":58080,"v":0.320,"lo":0.240,"hi":0.400},{"s":"A225","t":58085,"v":0.030,"lo":-0.050,"hi":0.110},{"s":"A225","t":58092,"v":0.190,"lo":0.110,"hi":0.270},{"s":"A225","t":58100,"v":0.300,"lo":0.220,"hi":0.380},{"s":"A225","t":58112,"v":0.220,"lo":0.140,"hi":0.300},{"s":"A225","t":58120,"v":0.050,"lo":-0.030,"hi":0.130},{"s":"A225","t":58125,"v":0.140,"lo":0.060,"hi":0.220},{"s":"A225","t":58132,"v":0.300,"lo":0.220,"hi":0.380},{"s":"A225","t":58140,"v":0.180,"lo":0.100,"hi":0.260},
{"s":"A225","t":58235,"v":0.220,"lo":0.140,"hi":0.300},{"s":"A225","t":58260,"v":0.280,"lo":0.200,"hi":0.360},{"s":"A225","t":58266,"v":0.360,"lo":0.280,"hi":0.440},
{"s":"A225","t":58368,"v":0.260,"lo":0.180,"hi":0.340},{"s":"A225","t":58372,"v":0.130,"lo":0.050,"hi":0.210},{"s":"A225","t":58380,"v":0.300,"lo":0.220,"hi":0.380},{"s":"A225","t":58392,"v":0.220,"lo":0.140,"hi":0.300},{"s":"A225","t":58400,"v":0.320,"lo":0.240,"hi":0.400},{"s":"A225","t":58405,"v":0.100,"lo":0.020,"hi":0.180},{"s":"A225","t":58412,"v":0.250,"lo":0.170,"hi":0.330},{"s":"A225","t":58420,"v":0.180,"lo":0.100,"hi":0.260},{"s":"A225","t":58430,"v":0.310,"lo":0.230,"hi":0.390},{"s":"A225","t":58440,"v":0.240,"lo":0.160,"hi":0.320},{"s":"A225","t":58450,"v":0.330,"lo":0.250,"hi":0.410},{"s":"A225","t":58458,"v":0.200,"lo":0.120,"hi":0.280},{"s":"A225","t":58468,"v":0.270,"lo":0.190,"hi":0.350},
{"s":"A225","t":58540,"v":0.220,"lo":0.140,"hi":0.300},{"s":"A225","t":58555,"v":0.190,"lo":0.110,"hi":0.270},{"s":"A225","t":58565,"v":0.140,"lo":0.060,"hi":0.220},{"s":"A225","t":58570,"v":0.260,"lo":0.180,"hi":0.340},{"s":"A225","t":58585,"v":0.210,"lo":0.130,"hi":0.290},{"s":"A225","t":58600,"v":0.280,"lo":0.200,"hi":0.360},{"s":"A225","t":58610,"v":0.160,"lo":0.080,"hi":0.240},
{"s":"A225","t":58708,"v":0.180,"lo":0.100,"hi":0.260},{"s":"A225","t":58720,"v":0.150,"lo":0.070,"hi":0.230},{"s":"A225","t":58732,"v":0.200,"lo":0.120,"hi":0.280},{"s":"A225","t":58745,"v":0.130,"lo":0.050,"hi":0.210},{"s":"A225","t":58758,"v":0.170,"lo":0.090,"hi":0.250},{"s":"A225","t":58770,"v":0.210,"lo":0.130,"hi":0.290},{"s":"A225","t":58782,"v":0.140,"lo":0.060,"hi":0.220},{"s":"A225","t":58795,"v":0.180,"lo":0.100,"hi":0.260},{"s":"A225","t":58808,"v":0.120,"lo":0.040,"hi":0.200},{"s":"A225","t":58820,"v":0.160,"lo":0.080,"hi":0.240},{"s":"A225","t":58832,"v":0.200,"lo":0.120,"hi":0.280},{"s":"A225","t":58840,"v":0.110,"lo":0.030,"hi":0.190},
{"s":"A225","t":58945,"v":0.180,"lo":0.100,"hi":0.260},{"s":"A225","t":58962,"v":0.240,"lo":0.160,"hi":0.320},
{"s":"A225","t":59088,"v":0.150,"lo":0.070,"hi":0.230},{"s":"A225","t":59102,"v":0.210,"lo":0.130,"hi":0.290},{"s":"A225","t":59118,"v":0.130,"lo":0.050,"hi":0.210},{"s":"A225","t":59132,"v":0.180,"lo":0.100,"hi":0.260},{"s":"A225","t":59150,"v":0.110,"lo":0.030,"hi":0.190},{"s":"A225","t":59162,"v":0.200,"lo":0.120,"hi":0.280},{"s":"A225","t":59178,"v":0.120,"lo":0.040,"hi":0.200},{"s":"A225","t":59198,"v":0.160,"lo":0.080,"hi":0.240},{"s":"A225","t":59212,"v":0.090,"lo":0.010,"hi":0.170},{"s":"A225","t":59228,"v":0.150,"lo":0.070,"hi":0.230},{"s":"A225","t":59245,"v":0.120,"lo":0.040,"hi":0.200},{"s":"A225","t":59258,"v":0.080,"lo":0.000,"hi":0.160},{"s":"A225","t":59272,"v":0.140,"lo":0.060,"hi":0.220},{"s":"A225","t":59288,"v":0.110,"lo":0.030,"hi":0.190},{"s":"A225","t":59300,"v":0.160,"lo":0.080,"hi":0.240},{"s":"A225","t":59320,"v":0.100,"lo":0.020,"hi":0.180},{"s":"A225","t":59338,"v":0.130,"lo":0.050,"hi":0.210}
],
"inset":[
{"s":"O","t":54443,"v":0.458,"lo":0.422,"hi":0.494},{"s":"O","t":54543,"v":0.416,"lo":0.377,"hi":0.455},{"s":"O","t":54643,"v":0.464,"lo":0.436,"hi":0.492},{"s":"O","t":54748,"v":0.542,"lo":0.517,"hi":0.567},{"s":"O","t":54847,"v":0.566,"lo":0.554,"hi":0.578},{"s":"O","t":54947,"v":0.531,"lo":0.495,"hi":0.567},{"s":"O","t":55041,"v":0.416,"lo":0.378,"hi":0.454},{"s":"O","t":55141,"v":0.348,"lo":0.330,"hi":0.366},{"s":"O","t":55246,"v":0.285,"lo":0.275,"hi":0.295},{"s":"O","t":55346,"v":0.267,"lo":0.257,"hi":0.277},{"s":"O","t":55550,"v":0.360,"lo":0.336,"hi":0.384},{"s":"O","t":55650,"v":0.409,"lo":0.391,"hi":0.427},{"s":"O","t":55744,"v":0.382,"lo":0.374,"hi":0.390},{"s":"O","t":55849,"v":0.461,"lo":0.416,"hi":0.506},{"s":"O","t":55949,"v":0.663,"lo":0.596,"hi":0.730},{"s":"O","t":56143,"v":0.667,"lo":0.655,"hi":0.679},{"s":"O","t":56242,"v":0.585,"lo":0.549,"hi":0.621},{"s":"O","t":56342,"v":0.501,"lo":0.459,"hi":0.543},{"s":"O","t":56441,"v":0.370,"lo":0.329,"hi":0.411},{"s":"O","t":56541,"v":0.309,"lo":0.297,"hi":0.321},{"s":"O","t":56641,"v":0.336,"lo":0.328,"hi":0.344},{"s":"O","t":56740,"v":0.331,"lo":0.323,"hi":0.339},{"s":"O","t":56840,"v":0.283,"lo":0.271,"hi":0.295},{"s":"O","t":56939,"v":0.445,"lo":0.371,"hi":0.519},{"s":"O","t":57039,"v":0.525,"lo":0.515,"hi":0.535},{"s":"O","t":57139,"v":0.615,"lo":0.567,"hi":0.663},{"s":"O","t":57238,"v":0.573,"lo":0.565,"hi":0.581},{"s":"O","t":57338,"v":0.537,"lo":0.520,"hi":0.554},{"s":"O","t":57437,"v":0.473,"lo":0.463,"hi":0.483},{"s":"O","t":57537,"v":0.337,"lo":0.325,"hi":0.349},{"s":"O","t":57637,"v":0.315,"lo":0.303,"hi":0.327},{"s":"O","t":57736,"v":0.258,"lo":0.231,"hi":0.285},{"s":"O","t":57836,"v":0.206,"lo":0.194,"hi":0.218},{"s":"O","t":57936,"v":0.210,"lo":0.202,"hi":0.218},{"s":"O","t":58035,"v":0.262,"lo":0.250,"hi":0.274},{"s":"O","t":58135,"v":0.365,"lo":0.350,"hi":0.380},{"s":"O","t":58235,"v":0.515,"lo":0.470,"hi":0.560},{"s":"O","t":58334,"v":0.590,"lo":0.578,"hi":0.602},{"s":"O","t":58434,"v":0.700,"lo":0.664,"hi":0.736},{"s":"O","t":58533,"v":0.624,"lo":0.614,"hi":0.634},{"s":"O","t":58638,"v":0.584,"lo":0.572,"hi":0.596},{"s":"O","t":58733,"v":0.521,"lo":0.511,"hi":0.531},{"s":"O","t":58838,"v":0.491,"lo":0.449,"hi":0.533},{"s":"O","t":58937,"v":0.409,"lo":0.392,"hi":0.426},{"s":"O","t":59037,"v":0.345,"lo":0.330,"hi":0.360},{"s":"O","t":59137,"v":0.364,"lo":0.356,"hi":0.372},{"s":"O","t":59236,"v":0.330,"lo":0.322,"hi":0.338},{"s":"O","t":59336,"v":0.345,"lo":0.337,"hi":0.353},{"s":"O","t":59436,"v":0.367,"lo":0.359,"hi":0.375},{"s":"O","t":59535,"v":0.378,"lo":0.370,"hi":0.386},{"s":"O","t":59635,"v":0.373,"lo":0.365,"hi":0.381},{"s":"O","t":59735,"v":0.360,"lo":0.348,"hi":0.372},{"s":"O","t":59834,"v":0.388,"lo":0.378,"hi":0.398},{"s":"O","t":59934,"v":0.386,"lo":0.378,"hi":0.394},{"s":"O","t":60033,"v":0.384,"lo":0.376,"hi":0.392},{"s":"O","t":60133,"v":0.392,"lo":0.377,"hi":0.407},
{"s":"A95","t":57637,"v":0.130,"lo":0.110,"hi":0.150},{"s":"A95","t":57736,"v":0.131,"lo":0.105,"hi":0.157},{"s":"A95","t":57888,"v":0.145,"lo":0.125,"hi":0.165},{"s":"A95","t":58035,"v":0.367,"lo":0.320,"hi":0.414},{"s":"A95","t":58135,"v":0.424,"lo":0.395,"hi":0.453},{"s":"A95","t":58235,"v":0.428,"lo":0.405,"hi":0.451},{"s":"A95","t":58334,"v":0.440,"lo":0.420,"hi":0.460},{"s":"A95","t":58434,"v":0.449,"lo":0.430,"hi":0.468},{"s":"A95","t":58533,"v":0.372,"lo":0.340,"hi":0.404},{"s":"A95","t":58638,"v":0.421,"lo":0.400,"hi":0.442},{"s":"A95","t":58733,"v":0.315,"lo":0.290,"hi":0.340},{"s":"A95","t":58838,"v":0.281,"lo":0.255,"hi":0.307},{"s":"A95","t":58937,"v":0.209,"lo":0.190,"hi":0.228},{"s":"A95","t":59090,"v":0.291,"lo":0.270,"hi":0.312},{"s":"A95","t":59137,"v":0.246,"lo":0.215,"hi":0.277},{"s":"A95","t":59236,"v":0.204,"lo":0.165,"hi":0.243},{"s":"A95","t":59336,"v":0.194,"lo":0.160,"hi":0.228},
{"s":"A147","t":57637,"v":0.103,"lo":0.085,"hi":0.121},{"s":"A147","t":57736,"v":0.103,"lo":0.075,"hi":0.131},{"s":"A147","t":57888,"v":0.112,"lo":0.092,"hi":0.132},{"s":"A147","t":58035,"v":0.300,"lo":0.250,"hi":0.350},{"s":"A147","t":58135,"v":0.330,"lo":0.280,"hi":0.380},{"s":"A147","t":58235,"v":0.340,"lo":0.290,"hi":0.390},{"s":"A147","t":58334,"v":0.360,"lo":0.320,"hi":0.400},{"s":"A147","t":58434,"v":0.365,"lo":0.325,"hi":0.405},{"s":"A147","t":58533,"v":0.330,"lo":0.290,"hi":0.370},{"s":"A147","t":58638,"v":0.300,"lo":0.260,"hi":0.340},{"s":"A147","t":58733,"v":0.250,"lo":0.210,"hi":0.290},{"s":"A147","t":58838,"v":0.225,"lo":0.185,"hi":0.265},{"s":"A147","t":58937,"v":0.165,"lo":0.135,"hi":0.195},{"s":"A147","t":59090,"v":0.215,"lo":0.165,"hi":0.265},{"s":"A147","t":59137,"v":0.210,"lo":0.170,"hi":0.250},{"s":"A147","t":59236,"v":0.165,"lo":0.125,"hi":0.205},{"s":"A147","t":59336,"v":0.155,"lo":0.115,"hi":0.195},
{"s":"A225","t":57637,"v":0.110,"lo":0.080,"hi":0.140},{"s":"A225","t":57736,"v":0.120,"lo":0.080,"hi":0.160},{"s":"A225","t":57888,"v":0.130,"lo":0.100,"hi":0.160},{"s":"A225","t":58035,"v":0.220,"lo":0.140,"hi":0.300},{"s":"A225","t":58135,"v":0.270,"lo":0.180,"hi":0.360},{"s":"A225","t":58235,"v":0.240,"lo":0.160,"hi":0.320},{"s":"A225","t":58334,"v":0.290,"lo":0.210,"hi":0.370},{"s":"A225","t":58434,"v":0.280,"lo":0.210,"hi":0.350},{"s":"A225","t":58533,"v":0.250,"lo":0.150,"hi":0.350},{"s":"A225","t":58638,"v":0.220,"lo":0.130,"hi":0.310},{"s":"A225","t":58733,"v":0.200,"lo":0.130,"hi":0.270},{"s":"A225","t":58838,"v":0.160,"lo":0.100,"hi":0.220},{"s":"A225","t":58937,"v":0.120,"lo":0.040,"hi":0.200},{"s":"A225","t":59090,"v":0.170,"lo":0.090,"hi":0.250},{"s":"A225","t":59137,"v":0.150,"lo":0.080,"hi":0.220},{"s":"A225","t":59236,"v":0.130,"lo":0.050,"hi":0.210},{"s":"A225","t":59336,"v":0.120,"lo":0.020,"hi":0.220}
]
},
"layer":[
{
"layer":[
{"data":{"values":[{}]},"mark":{"type":"rule","strokeDash":[8,6],"color":"#8c8c8c","strokeWidth":1.4},
 "encoding":{"x":{"datum":59043,"type":"quantitative","scale":{"domain":[57600,59355],"nice":false,"zero":false},
   "axis":{"orient":"bottom","values":[57600,57800,58000,58200,58400,58600,58800,59000,59200],"format":"d","grid":true,"gridDash":[1,3],"gridColor":"#808080","gridWidth":1,"tickSize":-7,"labelPadding":5,"title":"Modified Julian Day","titlePadding":9}}}},
{"data":{"name":"faint"},"mark":{"type":"rule","strokeWidth":1,"opacity":0.15,"clip":true},
 "encoding":{"x":{"field":"t","type":"quantitative",
   "axis":{"orient":"top","values":[57754,58119,58484,58849,59215],"labelExpr":"round((datum.value-51544.5)/365.25)+2000","tickSize":-7,"grid":false,"labelPadding":11,"title":null}},
  "y":{"field":"lo","type":"quantitative","scale":{"domain":[0,0.85],"nice":false,"zero":false},
   "axis":{"orient":"left","values":[0,0.1,0.2,0.3,0.4,0.5,0.6,0.7,0.8],"labelExpr":"datum.value==0?'0':format(datum.value,'.1f')","grid":true,"gridDash":[1,3],"gridColor":"#808080","gridWidth":1,"tickSize":-7,"labelPadding":21,"title":"Flux Density (Jy)","titlePadding":15}},
  "y2":{"field":"hi"},
  "color":{"field":"s","type":"nominal","scale":{"domain":["O","A95","A147","A225"],"range":["#D55E00","#0072B2","#009E73","#56B4E9"]},
   "legend":{"orient":"none","legendX":1164,"legendY":10,"title":null,"padding":0,
    "labelExpr":"datum.label=='O'?'OVRO 15 GHz':datum.label=='A95'?'ACT 95 GHz':datum.label=='A147'?'ACT 147 GHz':'ACT 225 GHz'",
    "labelFont":"Liberation Serif","labelFontSize":27,"labelColor":"black","labelAlign":"right","labelOffset":-59,"labelLimit":400,
    "symbolSize":729,"symbolStrokeWidth":2,"symbolOpacity":1,"rowPadding":-3.5}}}},
{"data":{"name":"faint"},"transform":[{"filter":"datum.s=='O'"}],"mark":{"type":"point","filled":true,"shape":"M-0.37,-0.07H0.37V0.07H-0.37ZM-0.07,-0.37H0.07V0.37H-0.07ZM-0.31,-0.21L-0.21,-0.31L0.31,0.21L0.21,0.31ZM-0.31,0.21L0.21,-0.31L0.31,-0.21L-0.21,0.31Z","size":729,"opacity":0.17,"strokeWidth":0,"clip":true},
 "encoding":{"x":{"field":"t","type":"quantitative","axis":null},
  "y":{"field":"v","type":"quantitative","axis":{"orient":"right","values":[0,0.1,0.2,0.3,0.4,0.5,0.6,0.7,0.8],"labels":false,"tickSize":-7,"grid":false,"title":null}},
  "fill":{"field":"s","type":"nominal","scale":{"domain":["O","A95","A147","A225"],"range":["#D55E00","#0072B2","#009E73","#56B4E9"]}}}},
{"data":{"name":"faint"},"transform":[{"filter":"datum.s=='A95'"}],"mark":{"type":"point","filled":true,"shape":"M0.37,0A0.37,0.37,0,1,1,-0.37,0A0.37,0.37,0,1,1,0.37,0Z","size":729,"opacity":0.17,"strokeWidth":0,"clip":true},
 "encoding":{"x":{"field":"t","type":"quantitative","axis":null},"y":{"field":"v","type":"quantitative","axis":null},"fill":{"field":"s","type":"nominal"}}},
{"data":{"name":"faint"},"transform":[{"filter":"datum.s=='A147'"}],"mark":{"type":"point","filled":true,"shape":"M-0.4,-0.3L0.4,-0.3L0,0.4Z","size":729,"opacity":0.17,"strokeWidth":0,"clip":true},
 "encoding":{"x":{"field":"t","type":"quantitative","axis":null},"y":{"field":"v","type":"quantitative","axis":null},"fill":{"field":"s","type":"nominal"}}},
{"data":{"name":"faint"},"transform":[{"filter":"datum.s=='A225'"}],"mark":{"type":"point","filled":true,"shape":"M-0.4,0.3L0.4,0.3L0,-0.4Z","size":729,"opacity":0.17,"strokeWidth":0,"clip":true},
 "encoding":{"x":{"field":"t","type":"quantitative","axis":null},"y":{"field":"v","type":"quantitative","axis":null},"fill":{"field":"s","type":"nominal"}}},
{"data":{"name":"fit"},"mark":{"type":"line","strokeWidth":2.6,"interpolate":"monotone","clip":true},
 "encoding":{"x":{"field":"t","type":"quantitative","axis":null},"y":{"field":"v","type":"quantitative","axis":null},
  "color":{"field":"s","type":"nominal"},
  "strokeDash":{"field":"g","type":"nominal","scale":{"domain":["a","b"],"range":[[1,0],[2,5]]},"legend":null}}},
{"data":{"name":"bold"},"mark":{"type":"rule","strokeWidth":2,"clip":true},
 "encoding":{"x":{"field":"t","type":"quantitative","axis":null},"y":{"field":"lo","type":"quantitative","axis":null},"y2":{"field":"hi"},
  "color":{"field":"s","type":"nominal"}}},
{"data":{"name":"bold"},"mark":{"type":"tick","orient":"horizontal","size":9,"thickness":2,"clip":true},
 "encoding":{"x":{"field":"t","type":"quantitative","axis":null},"y":{"field":"lo","type":"quantitative","axis":null},
  "color":{"field":"s","type":"nominal"}}},
{"data":{"name":"bold"},"mark":{"type":"tick","orient":"horizontal","size":9,"thickness":2,"clip":true},
 "encoding":{"x":{"field":"t","type":"quantitative","axis":null},"y":{"field":"hi","type":"quantitative","axis":null},
  "color":{"field":"s","type":"nominal"}}},
{"data":{"name":"bold"},"transform":[{"filter":"datum.s=='O'"}],"mark":{"type":"point","filled":true,"shape":"M-0.37,-0.07H0.37V0.07H-0.37ZM-0.07,-0.37H0.07V0.37H-0.07ZM-0.31,-0.21L-0.21,-0.31L0.31,0.21L0.21,0.31ZM-0.31,0.21L0.21,-0.31L0.31,-0.21L-0.21,0.31Z","size":729,"opacity":1,"strokeWidth":0,"clip":true},
 "encoding":{"x":{"field":"t","type":"quantitative","axis":null},"y":{"field":"v","type":"quantitative","axis":null},"fill":{"field":"s","type":"nominal"}}},
{"data":{"name":"bold"},"transform":[{"filter":"datum.s=='A95'"}],"mark":{"type":"point","filled":true,"shape":"M0.37,0A0.37,0.37,0,1,1,-0.37,0A0.37,0.37,0,1,1,0.37,0Z","size":729,"opacity":1,"strokeWidth":0,"clip":true},
 "encoding":{"x":{"field":"t","type":"quantitative","axis":null},"y":{"field":"v","type":"quantitative","axis":null},"fill":{"field":"s","type":"nominal"}}},
{"data":{"name":"bold"},"transform":[{"filter":"datum.s=='A147'"}],"mark":{"type":"point","filled":true,"shape":"M-0.4,-0.3L0.4,-0.3L0,0.4Z","size":729,"opacity":1,"strokeWidth":0,"clip":true},
 "encoding":{"x":{"field":"t","type":"quantitative","axis":null},"y":{"field":"v","type":"quantitative","axis":null},"fill":{"field":"s","type":"nominal"}}},
{"data":{"name":"bold"},"transform":[{"filter":"datum.s=='A225'"}],"mark":{"type":"point","filled":true,"shape":"M-0.4,0.3L0.4,0.3L0,-0.4Z","size":729,"opacity":1,"strokeWidth":0,"clip":true},
 "encoding":{"x":{"field":"t","type":"quantitative","axis":null},"y":{"field":"v","type":"quantitative","axis":null},"fill":{"field":"s","type":"nominal"}}},
{"data":{"name":"bold"},"mark":{"type":"point","filled":true,"size":729,"opacity":0,"strokeWidth":2,"clip":true},
 "encoding":{"x":{"field":"t","type":"quantitative","axis":null},"y":{"field":"v","type":"quantitative","axis":null},
  "fill":{"field":"s","type":"nominal"},
  "stroke":{"field":"s","type":"nominal","scale":{"domain":["O","A95","A147","A225"],"range":["#D55E00","#0072B2","#009E73","#56B4E9"]}},
  "shape":{"field":"s","type":"nominal","scale":{"domain":["O","A95","A147","A225"],"range":[
   "M-2.4,0H2.4M-2.4,-0.37V0.37M2.4,-0.37V0.37M-0.37,0H0.37M0,-0.37V0.37M-0.26,-0.26L0.26,0.26M-0.26,0.26L0.26,-0.26",
   "M-2.4,0H2.4M-2.4,-0.37V0.37M2.4,-0.37V0.37M0.37,0A0.37,0.37,0,1,1,-0.37,0A0.37,0.37,0,1,1,0.37,0Z",
   "M-2.4,0H2.4M-2.4,-0.37V0.37M2.4,-0.37V0.37M-0.4,-0.3L0.4,-0.3L0,0.4Z",
   "M-2.4,0H2.4M-2.4,-0.37V0.37M2.4,-0.37V0.37M-0.4,0.3L0.4,0.3L0,-0.4Z"]}}}}
],
"resolve":{"axis":{"x":"independent","y":"independent"}}
},
{
"layer":[
{"data":{"values":[{}]},"mark":{"type":"rect","fill":"white","stroke":"black","strokeWidth":1.2},
 "encoding":{
  "x":{"datum":54393,"type":"quantitative","scale":{"domain":[54393,60171],"range":[69.3,417.3],"nice":false,"zero":false},
   "axis":{"orient":"top","offset":-45.7,"values":[55197,56658,58119,59580],"labelExpr":"round((datum.value-51544.5)/365.25)+2000","tickSize":-5,"grid":false,"labelPadding":5,"labelFontSize":26,"title":null,"zindex":1}},
  "x2":{"datum":60171},
  "y":{"datum":0,"type":"quantitative","scale":{"domain":[0,0.755],"range":[255.3,45.7],"nice":false,"zero":false,"clamp":true},
   "axis":{"orient":"left","offset":-69.3,"values":[0,0.2,0.4,0.6],"labelExpr":"datum.value==0?'0':format(datum.value,'.1f')","tickSize":-5,"grid":false,"labelPadding":19,"labelFontSize":26,"title":null,"zindex":1}},
  "y2":{"datum":0.755}}},
{"data":{"values":[{}]},"mark":{"type":"rule","strokeDash":[6,4],"color":"#8c8c8c","strokeWidth":1.2},
 "encoding":{
  "x":{"datum":59043,"type":"quantitative","axis":{"orient":"bottom","offset":-276.7,"values":[55197,56658,58119,59580],"labels":false,"tickSize":-5,"grid":false,"title":null,"zindex":1}},
  "y":{"datum":0,"type":"quantitative","axis":{"orient":"right","offset":-818.7,"values":[0,0.2,0.4,0.6],"labels":false,"tickSize":-5,"grid":false,"title":null,"zindex":1}},
  "y2":{"datum":0.755}}},
{"data":{"name":"fit"},"mark":{"type":"line","strokeWidth":1.6,"interpolate":"monotone"},
 "encoding":{"x":{"field":"t","type":"quantitative","axis":null},"y":{"field":"v","type":"quantitative","axis":null},
  "color":{"field":"s","type":"nominal"},
  "strokeDash":{"field":"g","type":"nominal","legend":null}}},
{"data":{"name":"inset"},"mark":{"type":"rule","strokeWidth":1.3},
 "encoding":{"x":{"field":"t","type":"quantitative","axis":null},"y":{"field":"lo","type":"quantitative","axis":null},"y2":{"field":"hi"},
  "color":{"field":"s","type":"nominal"}}},
{"data":{"name":"inset"},"mark":{"type":"tick","orient":"horizontal","size":5,"thickness":1.3},
 "encoding":{"x":{"field":"t","type":"quantitative","axis":null},"y":{"field":"lo","type":"quantitative","axis":null},
  "color":{"field":"s","type":"nominal"}}},
{"data":{"name":"inset"},"mark":{"type":"tick","orient":"horizontal","size":5,"thickness":1.3},
 "encoding":{"x":{"field":"t","type":"quantitative","axis":null},"y":{"field":"hi","type":"quantitative","axis":null},
  "color":{"field":"s","type":"nominal"}}},
{"data":{"name":"inset"},"transform":[{"filter":"datum.s=='O'"}],"mark":{"type":"point","filled":true,"shape":"M-0.37,-0.07H0.37V0.07H-0.37ZM-0.07,-0.37H0.07V0.37H-0.07ZM-0.31,-0.21L-0.21,-0.31L0.31,0.21L0.21,0.31ZM-0.31,0.21L0.21,-0.31L0.31,-0.21L-0.21,0.31Z","size":260,"opacity":1,"strokeWidth":0},
 "encoding":{"x":{"field":"t","type":"quantitative","axis":null},"y":{"field":"v","type":"quantitative","axis":null},"fill":{"field":"s","type":"nominal"}}},
{"data":{"name":"inset"},"transform":[{"filter":"datum.s=='A95'"}],"mark":{"type":"point","filled":true,"shape":"M0.37,0A0.37,0.37,0,1,1,-0.37,0A0.37,0.37,0,1,1,0.37,0Z","size":260,"opacity":1,"strokeWidth":0},
 "encoding":{"x":{"field":"t","type":"quantitative","axis":null},"y":{"field":"v","type":"quantitative","axis":null},"fill":{"field":"s","type":"nominal"}}},
{"data":{"name":"inset"},"transform":[{"filter":"datum.s=='A147'"}],"mark":{"type":"point","filled":true,"shape":"M-0.4,-0.3L0.4,-0.3L0,0.4Z","size":260,"opacity":1,"strokeWidth":0},
 "encoding":{"x":{"field":"t","type":"quantitative","axis":null},"y":{"field":"v","type":"quantitative","axis":null},"fill":{"field":"s","type":"nominal"}}},
{"data":{"name":"inset"},"transform":[{"filter":"datum.s=='A225'"}],"mark":{"type":"point","filled":true,"shape":"M-0.4,0.3L0.4,0.3L0,-0.4Z","size":260,"opacity":1,"strokeWidth":0},
 "encoding":{"x":{"field":"t","type":"quantitative","axis":null},"y":{"field":"v","type":"quantitative","axis":null},"fill":{"field":"s","type":"nominal"}}}
],
"resolve":{"axis":{"x":"independent","y":"independent"}}
}
],
"resolve":{"scale":{"x":"independent","y":"independent"},"axis":{"x":"independent","y":"independent"}}
}
